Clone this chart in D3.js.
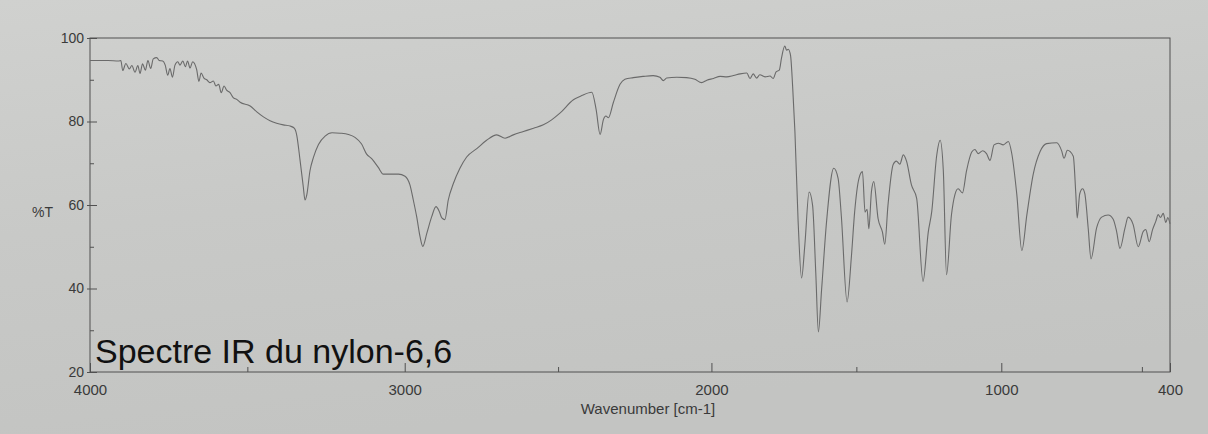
<!DOCTYPE html>
<html>
<head>
<meta charset="utf-8">
<script src="https://cdn.jsdelivr.net/npm/d3@7"></script>
<style>
  html, body { margin: 0; padding: 0; background: #c8c9c7; }
  svg { display: block; }
  text { font-family: "Liberation Sans", Arial, Helvetica, sans-serif; }
</style>
</head>
<body>
<svg id="chart" width="1208" height="434"></svg>
<script>
// ---- data ----
const wavenumber = [4000,3943,3909,3902,3896,3886,3875,3867,3857,3848,3841,3833,3824,3816,3807,3799,3788,3780,3769,3761,3753,3746,3738,3730,3721,3714,3705,3697,3690,3682,3674,3661,3654,3647,3638,3629,3619,3608,3600,3591,3583,3574,3566,3555,3545,3534,3523,3491,3470,3449,3428,3407,3386,3364,3351,3343,3333,3322,3317,3311,3301,3290,3274,3253,3231,3205,3179,3158,3137,3121,3105,3084,3068,3047,3020,2999,2983,2972,2961,2950,2941,2928,2912,2898,2887,2879,2869,2858,2841,2820,2798,2765,2733,2700,2673,2646,2613,2580,2548,2521,2494,2450,2423,2390,2376,2363,2352,2344,2336,2320,2298,2282,2255,2223,2190,2168,2157,2146,2113,2081,2054,2032,2015,1993,1970,1947,1924,1901,1878,1867,1856,1844,1833,1815,1798,1787,1777,1766,1758,1747,1741,1735,1727,1720,1712,1701,1689,1678,1663,1651,1640,1631,1620,1603,1578,1563,1552,1532,1517,1506,1491,1479,1470,1463,1457,1448,1440,1425,1410,1402,1391,1373,1362,1350,1338,1327,1310,1292,1270,1252,1240,1223,1211,1200,1189,1172,1160,1149,1134,1120,1102,1091,1080,1064,1051,1039,1025,1010,993,975,963,945,927,909,886,862,839,803,785,777,765,744,735,730,721,711,703,691,681,661,643,620,602,590,578,560,549,531,513,495,486,474,462,450,442,434,424,415,408,400];
const transmittance = [94.6,94.6,94.5,94.6,92.2,93.9,92.6,93.4,91.8,93.4,91.5,93.8,92.3,94.6,92.7,95.0,95.3,94.6,94.5,93.5,91.1,92.7,90.6,93.5,94.3,93.5,94.5,93.1,94.5,92.8,94.3,92.4,89.6,91.6,90.4,90.0,89.3,89.7,88.5,88.9,86.9,88.5,87.5,86.9,85.7,85.3,84.6,83.7,82.3,81.1,80.2,79.6,79.2,78.9,78.4,76.7,71.0,64.2,61.2,62.5,68.2,71.4,74.5,76.5,77.3,77.2,76.9,76.2,74.6,72.2,71.1,69.0,67.4,67.4,67.4,66.9,64.8,61.2,57.2,52.4,50.1,53.2,57.2,59.6,58.4,56.9,56.5,61.2,65.2,68.8,71.5,73.5,75.5,76.8,76.0,76.8,77.6,78.4,79.2,80.4,82.0,85.2,86.2,87.0,82.9,76.9,80.5,81.3,80.9,84.5,88.9,90.1,90.5,90.8,91.0,90.6,89.8,90.4,90.6,90.5,90.1,89.3,89.9,90.3,90.8,90.7,91.0,91.4,91.6,90.3,91.4,90.4,91.2,90.7,90.9,90.3,91.9,92.3,95.3,98.1,97.1,97.3,95.8,88.6,77.6,56.2,42.5,50.2,63.1,59.9,43.7,29.6,39.7,55.9,68.8,66.4,57.5,36.8,47.8,58.3,66.4,68.0,58.3,59.0,54.3,63.2,65.6,56.7,53.5,50.6,59.9,69.7,70.5,69.8,72.0,70.5,64.8,61.6,41.7,53.5,58.4,71.8,75.5,68.2,43.3,57.6,62.5,63.9,62.9,68.2,72.7,73.3,72.3,73.0,72.3,70.7,74.4,74.8,74.4,75.2,72.4,62.6,49.1,57.7,67.5,72.8,74.7,74.9,72.9,71.2,73.1,71.7,62.7,56.9,62.7,63.9,62.7,54.5,47.1,54.5,57.1,57.6,56.6,53.7,49.6,54.5,57.1,55.3,50.0,53.7,54.1,51.2,54.1,56.2,57.7,57.0,58.0,55.8,57.0,55.5];
const xMajorTicks = [4000, 3000, 2000, 1000, 400];
const xMinorTicks = [3500, 2500, 1500, 500];
const yMajorTicks = [100, 80, 60, 40, 20];
const yMinorTicks = [90, 70, 50, 30];
const xLabel = "Wavenumber [cm-1]";
const yLabel = "%T";
const title = "Spectre IR du nylon-6,6";

// ---- layout ----
const svg = d3.select("#chart");
const W = 1208, H = 434;
const mLeft = 90, mRight = 1170, mTop = 38, mBottom = 372;
const pw = mRight - mLeft;

// background (photographed paper)
const defs = svg.append("defs");
const grad = defs.append("linearGradient").attr("id", "paper")
  .attr("x1", "0").attr("y1", "0").attr("x2", "0.3").attr("y2", "1");
grad.append("stop").attr("offset", "0").attr("stop-color", "#d0d1cf");
grad.append("stop").attr("offset", "0.5").attr("stop-color", "#c8c9c7");
grad.append("stop").attr("offset", "1").attr("stop-color", "#c3c4c2");
svg.append("rect").attr("width", W).attr("height", H).attr("fill", "url(#paper)");

// scales
const x = d3.scaleLinear()
  .domain([4000, 3000, 2000, 1000, 400])
  .range([0, 0.2914, 0.5754, 0.8438, 1].map(f => mLeft + f * pw));
const y = d3.scaleLinear().domain([20, 100]).range([mBottom, mTop]);

const axisColor = "#505050";

// x axis
const gx = svg.append("g").attr("transform", `translate(0,${mBottom})`)
  .call(d3.axisBottom(x).tickValues(xMajorTicks).tickSizeInner(-9).tickSizeOuter(0)
    .tickPadding(12).tickFormat(d3.format("d")));
gx.select(".domain").remove();
gx.selectAll(".tick line").attr("stroke", axisColor);
gx.selectAll(".tick text").attr("font-size", 15).attr("fill", "#3a3a3a");
const gxm = svg.append("g").attr("transform", `translate(0,${mBottom})`)
  .call(d3.axisBottom(x).tickValues(xMinorTicks).tickSizeInner(-5).tickSizeOuter(0).tickFormat(""));
gxm.select(".domain").remove();
gxm.selectAll(".tick line").attr("stroke", axisColor);

// y axis
const gy = svg.append("g").attr("transform", `translate(${mLeft},0)`)
  .call(d3.axisLeft(y).tickValues(yMajorTicks).tickSizeInner(-7).tickSizeOuter(0)
    .tickPadding(6).tickFormat(d3.format("d")));
gy.select(".domain").remove();
gy.selectAll(".tick line").attr("x1", -3).attr("x2", 7).attr("stroke", axisColor);
gy.selectAll(".tick text").attr("font-size", 14).attr("fill", "#3a3a3a");
const gym = svg.append("g").attr("transform", `translate(${mLeft},0)`)
  .call(d3.axisLeft(y).tickValues(yMinorTicks).tickSizeInner(-4).tickSizeOuter(0).tickFormat(""));
gym.select(".domain").remove();
gym.selectAll(".tick line").attr("stroke", axisColor);

// frame
svg.append("rect").attr("x", mLeft).attr("y", mTop).attr("width", pw).attr("height", mBottom - mTop)
  .attr("fill", "none").attr("stroke", axisColor).attr("stroke-width", 1);

// axis labels
svg.append("text").attr("x", 648).attr("y", 414).attr("text-anchor", "middle")
  .attr("font-size", 15).attr("fill", "#3a3a3a").text(xLabel);
svg.append("text").attr("x", 32).attr("y", 217).attr("text-anchor", "start")
  .attr("font-size", 14).attr("fill", "#3a3a3a").text(yLabel);

// spectrum
const n = Math.min(wavenumber.length, transmittance.length);
const pts = d3.range(n).map(i => [wavenumber[i], transmittance[i]]);
const line = d3.line().x(d => x(d[0])).y(d => y(d[1])).curve(d3.curveMonotoneX);
svg.append("path").datum(pts).attr("d", line)
  .attr("fill", "none").attr("stroke", "#6a6a6a").attr("stroke-width", 1.1)
  .attr("stroke-linejoin", "round");

// title
svg.append("text").attr("x", 95).attr("y", 363).attr("font-size", 34)
  .attr("fill", "#111").text(title);
</script>
</body>
</html>
